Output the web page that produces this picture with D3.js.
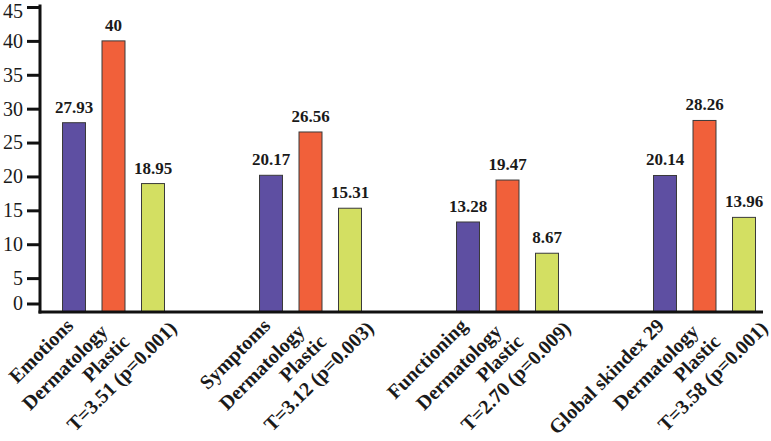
<!DOCTYPE html>
<html>
<head>
<meta charset="utf-8">
<script src="https://cdn.jsdelivr.net/npm/d3@7"></script>
<style>
  html, body { margin: 0; padding: 0; background: #fff; }
  svg { display: block; }
  text { font-family: "Liberation Serif", "Times New Roman", serif; fill: #1a1a1a; }
</style>
</head>
<body>
<svg id="chart" width="771" height="441"></svg>
<script>
// ---- data ----
const categories = ["Emotions", "Symptoms", "Functioning", "Global skindex 29"];
const seriesKeys = ["Skindex", "Dermatology", "Plastic"];
const skindexValues = [27.93, 20.17, 13.28, 20.14];
const dermatologyValues = [40, 26.56, 19.47, 28.26];
const plasticValues = [18.95, 15.31, 8.67, 13.96];
const testLabels = ["T=3.51 (p=0.001)", "T=3.12 (p=0.003)", "T=2.70 (p=0.009)", "T=3.58 (p=0.001)"];
const subLabels = ["Dermatology", "Plastic"];
const yTicks = [0, 5, 10, 15, 20, 25, 30, 35, 40, 45];

// ---- layout ----
const colors = { Skindex: "#5E4FA2", Dermatology: "#F1603A", Plastic: "#D3DF62" };
const plotLeft = 40, plotRight = 763, plotBottom = 312, plotTop = 7;

const svg = d3.select("#chart");

const y = d3.scaleLinear().domain([0, 45]).range([plotBottom, plotTop]);
const x0 = d3.scalePoint().domain(categories).range([113.5, 704.5]);
const x1 = d3.scaleBand().domain(seriesKeys).range([-59.25, 59.25])
  .paddingInner(0.418).paddingOuter(0.209);

const rows = categories.map((c, i) => ({
  category: c,
  test: testLabels[i],
  values: [
    { key: "Skindex", value: skindexValues[i] },
    { key: "Dermatology", value: dermatologyValues[i] },
    { key: "Plastic", value: plasticValues[i] }
  ]
}));

// bars
const groups = svg.append("g").selectAll("g").data(rows).join("g")
  .attr("transform", d => `translate(${x0(d.category)},0)`);

groups.selectAll("rect").data(d => d.values).join("rect")
  .attr("x", d => x1(d.key))
  .attr("width", x1.bandwidth())
  .attr("y", d => y(d.value))
  .attr("height", d => y(0) - y(d.value))
  .attr("fill", d => colors[d.key])
  .attr("stroke", "#3a3a3a")
  .attr("stroke-width", 1);

groups.selectAll("text.val").data(d => d.values).join("text")
  .attr("class", "val")
  .attr("x", d => x1(d.key) + x1.bandwidth() / 2)
  .attr("y", d => y(d.value) - 10)
  .attr("text-anchor", "middle")
  .style("font-size", "17px")
  .style("font-weight", "bold")
  .text(d => String(d.value));

// y axis
const yAxis = svg.append("g")
  .attr("transform", `translate(${plotLeft},0)`)
  .call(d3.axisLeft(y).tickValues(yTicks).tickSize(13).tickPadding(4).tickSizeOuter(0));
yAxis.select(".domain").attr("stroke", "#111").attr("stroke-width", 3)
  .attr("d", `M0,${plotTop - 2.5}V${plotBottom + 1.5}`);
yAxis.selectAll(".tick line").attr("stroke", "#111").attr("stroke-width", 3);
yAxis.selectAll(".tick text")
  .style("font-size", "20px").style("font-family", "Liberation Serif, serif").attr("fill", "#111");
yAxis.selectAll(".tick").filter(d => d === 0)
  .attr("transform", `translate(0,${y(0) - 8})`);
yAxis.selectAll(".tick").filter(d => d === 45).select("text")
  .attr("y", 4.5);

// x axis line
svg.append("line")
  .attr("x1", plotLeft - 1.5).attr("x2", plotRight)
  .attr("y1", y(0)).attr("y2", y(0))
  .attr("stroke", "#111").attr("stroke-width", 3);

// category labels (rotated)
const lab = svg.append("g").selectAll("g").data(rows).join("g")
  .attr("transform", d => `translate(${x0(d.category)},0)`)
  .style("font-size", "20px").style("font-weight", "bold");

lab.append("text")
  .attr("text-anchor", "end")
  .attr("dominant-baseline", "central")
  .attr("transform", "translate(-44,322) rotate(-45)")
  .text(d => d.category);
lab.append("text")
  .attr("text-anchor", "middle")
  .attr("dominant-baseline", "central")
  .attr("transform", "translate(-49,367) rotate(-45)")
  .text(subLabels[0]);
lab.append("text")
  .attr("text-anchor", "middle")
  .attr("dominant-baseline", "central")
  .attr("transform", "translate(-8,358) rotate(-45)")
  .text(subLabels[1]);
lab.append("text")
  .attr("text-anchor", "middle")
  .attr("dominant-baseline", "central")
  .attr("transform", "translate(8,376) rotate(-45)")
  .text(d => d.test);
</script>
</body>
</html>
